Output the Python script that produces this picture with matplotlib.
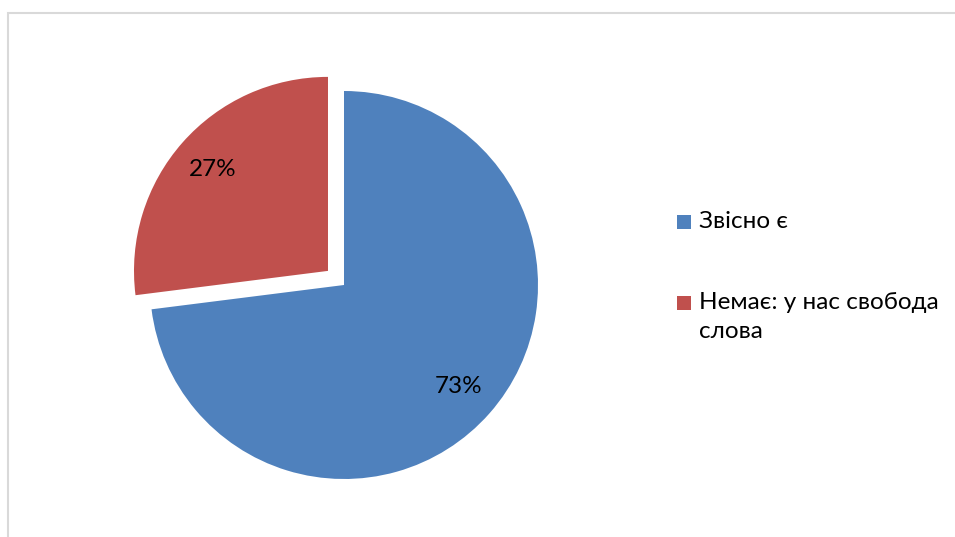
import matplotlib.pyplot as plt
from matplotlib.patches import Rectangle

# survey answers
labels = ['Звісно є', 'Немає: у нас свобода\nслова']
shares = [73, 27]
colors = ['#4F81BD', '#C0504D']
explode = [0, 0.11]

W, H = 955, 537
fam = ['Lato', 'Noto Sans', 'DejaVu Sans']

fig = plt.figure(figsize=(W / 100, H / 100), dpi=100)
fig.patch.set_facecolor('white')

# chart frame (only top and left visible)
fig.add_artist(Rectangle((8 / W, -0.05), 1.2, (H - 13) / H + 0.05, transform=fig.transFigure,
                         fill=False, edgecolor='#d9d9d9', lw=1.5))

cx, cy, r = 344, 285, 194
half = 205
ax = fig.add_axes([(cx - half) / W, (H - cy - half) / H, 2 * half / W, 2 * half / H])
wedges, texts, autotexts = ax.pie(shares, colors=colors, explode=explode, startangle=90,
                                  counterclock=False, autopct='%d%%', pctdistance=0.79,
                                  wedgeprops=dict(linewidth=0))
for t in autotexts:
    t.set_fontsize(17.5)
    t.set_family(fam)
    t.set_color('black')
lim = half / r
ax.set_xlim(-lim, lim)
ax.set_ylim(-lim, lim)
ax.set_aspect('equal')
ax.axis('off')

# legend drawn by hand
leg_y = [222, 303]
for lab, col, y in zip(labels, colors, leg_y):
    fig.add_artist(Rectangle((677 / W, (H - y - 7) / H), 14 / W, 14 / H,
                             transform=fig.transFigure, facecolor=col, edgecolor='none'))
    fig.text(699 / W, (H - y + 11) / H, lab, family=fam, fontsize=17.5, va='top', ha='left',
             linespacing=1.5)

fig.savefig('out.png', dpi=100)
